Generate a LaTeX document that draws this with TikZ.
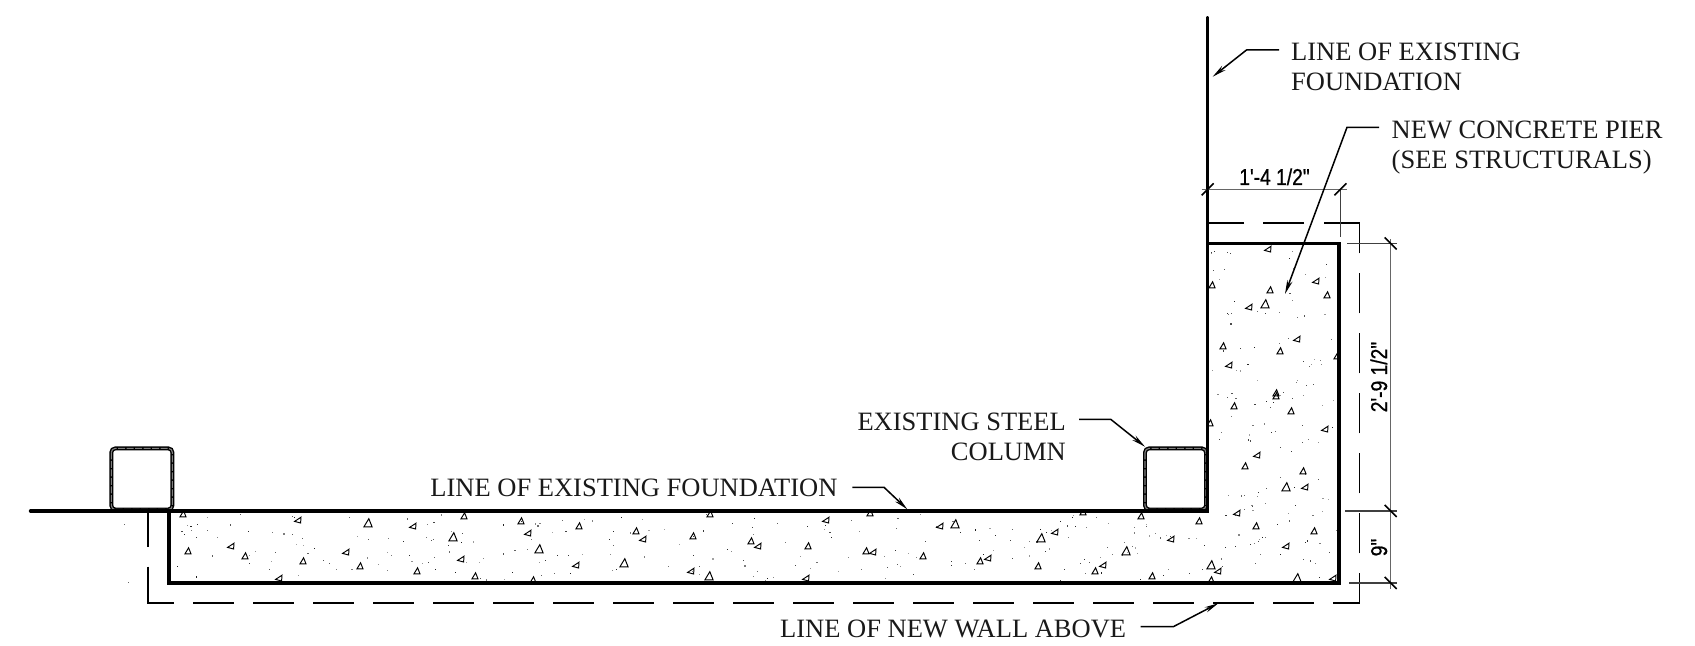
\documentclass[tikz,border=0pt]{standalone}
\usepackage{fontspec}
\setmainfont{Liberation Serif}
\newfontfamily\dimfont[FakeStretch=0.84,FakeBold=0.8]{Liberation Sans}
\usetikzlibrary{arrows.meta}
\tikzset{
  x=1bp,y=-1bp,
  heavy/.style={line width=3.9bp,black,line cap=round,line join=miter},
  hidden/.style={line width=1.6bp,black},
  leader/.style={line width=1.5bp,black,-{Stealth[length=14bp,width=5.5bp]},line join=miter},
  dimline/.style={line width=1.1bp,black!60},
  extline/.style={line width=1.1bp,black!75},
  ticks/.style={line width=1.5bp,black},
  label/.style={font=\fontsize{26.6}{30.1}\selectfont,inner sep=0pt,align=left,text=black!90},
  dimtext/.style={font=\dimfont\fontsize{23}{23}\selectfont,inner sep=0pt},
  aggr/.style={line width=0.95bp,black},
}
\newcommand{\upT}[1][1]{\draw[aggr,scale=#1] (-3,2.8) -- (3,2.8) -- (0.6,-3.2) -- cycle;}
\newcommand{\leftT}{\draw[aggr] (-3.4,1.4) -- (3,-2.8) -- (2.6,3) -- cycle;}
\begin{document}
\begin{tikzpicture}
\useasboundingbox (0,0) rectangle (1695,646);
\fill[white] (0,0) rectangle (1695,646);

% stipple and aggregate, kept inside the concrete
\begin{scope}
\clip (169.3,511) -- (1207.5,511) -- (1207.5,243.5) -- (1339.4,243.5) -- (1339.4,583) -- (169.3,583) -- cycle;
\pgfmathsetseed{2718}
\foreach \i in {1,...,230}{
  \pgfmathsetmacro{\px}{172+rnd*1035}
  \pgfmathsetmacro{\py}{514+rnd*67}
  \pgfmathsetmacro{\pg}{35+rnd*55}
  \fill[black!\pg] (\px,\py) rectangle ++(1.1,1.1);
}
\foreach \i in {1,...,130}{
  \pgfmathsetmacro{\px}{1210+rnd*127}
  \pgfmathsetmacro{\py}{246+rnd*335}
  \pgfmathsetmacro{\pg}{35+rnd*55}
  \fill[black!\pg] (\px,\py) rectangle ++(1.1,1.1);
}
\foreach \tx/\ty in {183/514,188/551,245/556,303/561,360/566,464/516,521/521,417/571,475/576,533/580,579/526,636/531,693/536,751/541,808/546,866/551,710/514,870/513,923/556,980/561,1038/566,1095/571,1152/576,1141/516,1199/521,1256/526,1083/512,1211/580,1223/346,1280/351,1337/356,1234/406,1276/396,1276/393,1291/411,1210/423,1245/466,1303/471,1314/531,1212/285,1270/290,1327/295}
  \begin{scope}[shift={(\tx,\ty)}]\upT\end{scope};
\foreach \tx/\ty in {368/523,453/537,539/549,624/563,709/576,955/524,1041/538,1126/551,1211/565,1286/487,1297/578,1265/304}
  \begin{scope}[shift={(\tx,\ty)}]\upT[1.35]\end{scope};
\foreach \tx/\ty in {298/520,231/546,346/552,279/578,413/526,528/533,461/559,643/539,758/546,873/552,826/520,576/565,691/571,806/578,940/526,1055/532,1237/513,1171/539,988/558,1103/565,1218/571,1229/365,1297/339,1325/429,1257/455,1305/487,1286/546,1333/578,1268/249,1316/281,1249/307}
  \begin{scope}[shift={(\tx,\ty)}]\leftT\end{scope};
\end{scope}
\fill[black!60] (124,524) rectangle ++(1.1,1.1);
\fill[black!60] (128,582) rectangle ++(1.1,1.1);

% hidden line of the new wall above
\draw[hidden] (147.7,512) -- (147.7,547.3);
\draw[hidden] (147.7,566.7) -- (147.7,602.7) -- (174,602.7);
\draw[hidden,dash pattern=on 41bp off 19bp] (193.3,602.7) -- (1314.4,602.7);
\draw[hidden] (1333.3,602.7) -- (1359.3,602.7) -- (1359.3,572.7);
\draw[hidden,dash pattern=on 40.6bp off 19.4bp] (1359.3,553.3) -- (1359.3,272.7);
\draw[hidden] (1359.3,253.3) -- (1359.3,223) -- (1323.5,223);
\draw[hidden] (1304,223) -- (1263,223);
\draw[hidden] (1244,223) -- (1209,223);

% steel columns
\coordinate (colA1) at (111.3,448.4);
\coordinate (colA2) at (172.4,509.5);
\coordinate (colB1) at (1145,448.4);
\coordinate (colB2) at (1206,509.5);
\draw[line width=3.9bp,black,rounded corners=4bp] (colA1) rectangle (colA2);
\draw[line width=1.1bp,black!50,rounded corners=4bp,dash pattern=on 7bp off 1.5bp] (colA1) rectangle (colA2);
\draw[line width=3.9bp,black,rounded corners=4bp] (colB1) rectangle (colB2);
\draw[line width=1.1bp,black!50,rounded corners=4bp,dash pattern=on 7bp off 1.5bp] (colB1) rectangle (colB2);

% foundation and pier outline
\coordinate (fA) at (30.7,511);
\coordinate (fB) at (1207.5,511);
\coordinate (fT) at (1207.5,18);
\coordinate (pTL) at (1207.5,243.5);
\coordinate (pTR) at (1339.4,243.5);
\coordinate (pBR) at (1339.4,583);
\coordinate (pBL) at (169.3,583);
\coordinate (pTop) at (169.3,511);
\draw[heavy] (fA) -- (fB) -- (fT);
\draw[heavy,line cap=butt] (pTL) -- (pTR) -- (pBR) -- (pBL) -- (pTop);

% dimensions
\draw[dimline] (1201.7,189.3) -- (1346.7,189.3);
\draw[extline] (1340.4,189.3) -- (1340.4,237);
\draw[ticks] (1201.7,195.3) -- (1213.7,183.3);
\draw[ticks] (1334.4,195.3) -- (1346.4,183.3);
\draw[dimline] (1390.7,239) -- (1390.7,589);
\draw[extline] (1347,243.5) -- (1397,243.5);
\draw[extline] (1345,511) -- (1397,511);
\draw[extline] (1349,583) -- (1397,583);
\draw[ticks] (1384.7,237.5) -- (1396.7,249.5);
\draw[ticks] (1384.7,505) -- (1396.7,517);
\draw[ticks] (1384.7,577) -- (1396.7,589);

\node[dimtext,anchor=base] (dimA) at (1274.5,185) {1'-4 1/2"};
\node[dimtext,anchor=base,rotate=90] (dimB) at (1387,377) {2'-9 1/2"};
\node[dimtext,anchor=base,rotate=90] (dimC) at (1387,547.5) {9"};

% labels
\node[label,anchor=base west] (lblTop) at (1291,90.8) {LINE OF EXISTING\\FOUNDATION};
\node[label,anchor=base west] (lblPier) at (1391.5,168.4) {NEW CONCRETE PIER\\(SEE STRUCTURALS)};
\node[label,anchor=base east,align=right] (lblCol) at (1066,460.1) {EXISTING STEEL\\COLUMN};
\node[label,anchor=base west] (lblFnd) at (430.2,496.7) {LINE OF EXISTING FOUNDATION};
\node[label,anchor=base west] (lblWall) at (780,637) {LINE OF NEW WALL ABOVE};

% leaders
\coordinate (ldTopS) at (1279,50);
\coordinate (ldTopE) at (1212.7,76.7);
\coordinate (ldPierS) at (1379,127.3);
\coordinate (ldPierE) at (1285,294);
\coordinate (ldColS) at (1079,419.3);
\coordinate (ldColE) at (1145,446.7);
\coordinate (ldFndS) at (852.3,487.3);
\coordinate (ldFndE) at (907.3,509.3);
\coordinate (ldWallS) at (1140.7,626.7);
\coordinate (ldWallE) at (1218.3,603.3);
\draw[leader] (ldTopS) -- (1246.5,50) -- (ldTopE);
\draw[leader] (ldPierS) -- (1347,127.3) -- (ldPierE);
\draw[leader] (ldColS) -- (1110.7,419.3) -- (ldColE);
\draw[leader] (ldFndS) -- (884,487.3) -- (ldFndE);
\draw[leader] (ldWallS) -- (1173.3,626.7) -- (ldWallE);
\end{tikzpicture}
\end{document}
